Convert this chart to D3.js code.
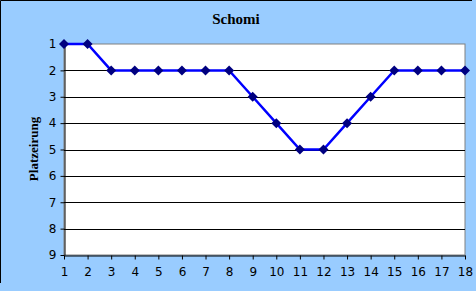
<!DOCTYPE html>
<html>
<head>
<meta charset="utf-8">
<script src="https://cdn.jsdelivr.net/npm/d3@7"></script>
<style>
  body { margin: 0; background: #fff; }
  svg { display: block; }
</style>
</head>
<body>
<div id="chart"></div>
<script>
// Platzierung pro Runde
const rounds = [1, 2, 3, 4, 5, 6, 7, 8, 9, 10, 11, 12, 13, 14, 15, 16, 17, 18];
const places = [1, 1, 2, 2, 2, 2, 2, 2, 3, 4, 5, 5, 4, 3, 2, 2, 2, 2];
const yTicks = [1, 2, 3, 4, 5, 6, 7, 8, 9];
const chartTitle = "Schomi";
const yLabel = "Platzeirung";

const W = 476, H = 291;
const margin = {top: 44, right: 11, bottom: 36, left: 64};
const width = W - margin.left - margin.right;
const height = H - margin.top - margin.bottom;

const svg = d3.select("#chart")
    .append("svg")
    .attr("width", W)
    .attr("height", H);

// background + frame
svg.append("rect")
    .attr("width", W)
    .attr("height", H)
    .attr("fill", "#99ccff");
svg.append("path")
    .attr("d", "M0.5,283 V0.5 H472")
    .attr("fill", "none")
    .attr("stroke", "#000")
    .attr("stroke-width", 1);

const g = svg.append("g")
    .attr("transform", `translate(${margin.left},${margin.top})`);

const x = d3.scaleLinear()
    .domain([1, 18])
    .range([0, width]);
const y = d3.scaleLinear()
    .domain([1, 9])
    .range([0, height]);

// plot area
g.append("rect")
    .attr("width", width)
    .attr("height", height)
    .attr("fill", "#fff")
    .attr("stroke", "#808080")
    .attr("stroke-width", 1);

// gridlines
g.selectAll(".grid")
    .data(yTicks.slice(1, -1))
    .enter()
    .append("line")
    .attr("x1", 0)
    .attr("x2", width)
    .attr("y1", d => Math.round(y(d)) + 0.5)
    .attr("y2", d => Math.round(y(d)) + 0.5)
    .attr("stroke", "#000")
    .attr("stroke-width", 1);

// axes
const yAxis = g.append("g")
    .attr("transform", "translate(0.5,0)")
    .call(d3.axisLeft(y).tickValues(yTicks).tickSize(4).tickPadding(4).tickSizeOuter(0));
const xAxis = g.append("g")
    .attr("transform", `translate(0,${height + 0.5})`)
    .call(d3.axisBottom(x).tickValues(rounds).tickSize(4).tickPadding(8).tickSizeOuter(0));

[yAxis, xAxis].forEach(a => {
    a.select(".domain").attr("stroke", "#000");
    a.selectAll(".tick line").attr("stroke", "#000");
    a.selectAll("text")
        .attr("fill", "#000")
        .style("font-family", "'DejaVu Sans', Verdana, sans-serif")
        .style("font-size", "12px");
});

// the line
g.append("path")
    .datum(rounds.map((r, i) => ({r: r, p: places[i]})))
    .attr("fill", "none")
    .attr("stroke", "#0000ff")
    .attr("stroke-width", 2.5)
    .attr("d", d3.line()
        .x(d => x(d.r))
        .y(d => y(d.p))
    );

// diamond markers
g.selectAll(".marker")
    .data(rounds.map((r, i) => ({r: r, p: places[i]})))
    .enter()
    .append("path")
    .attr("transform", d => `translate(${x(d.r)},${y(d.p)})`)
    .attr("d", "M0,-5 L5,0 L0,5 L-5,0 Z")
    .attr("fill", "#000080");

// title
svg.append("text")
    .attr("x", 236)
    .attr("y", 24)
    .attr("text-anchor", "middle")
    .style("font-family", "'Liberation Serif', 'Times New Roman', serif")
    .style("font-weight", "bold")
    .style("font-size", "15px")
    .text(chartTitle);

// y label
svg.append("text")
    .attr("transform", "translate(38,149) rotate(-90)")
    .attr("text-anchor", "middle")
    .style("font-family", "'Liberation Serif', 'Times New Roman', serif")
    .style("font-weight", "bold")
    .style("font-size", "13px")
    .text(yLabel);
</script>
</body>
</html>
